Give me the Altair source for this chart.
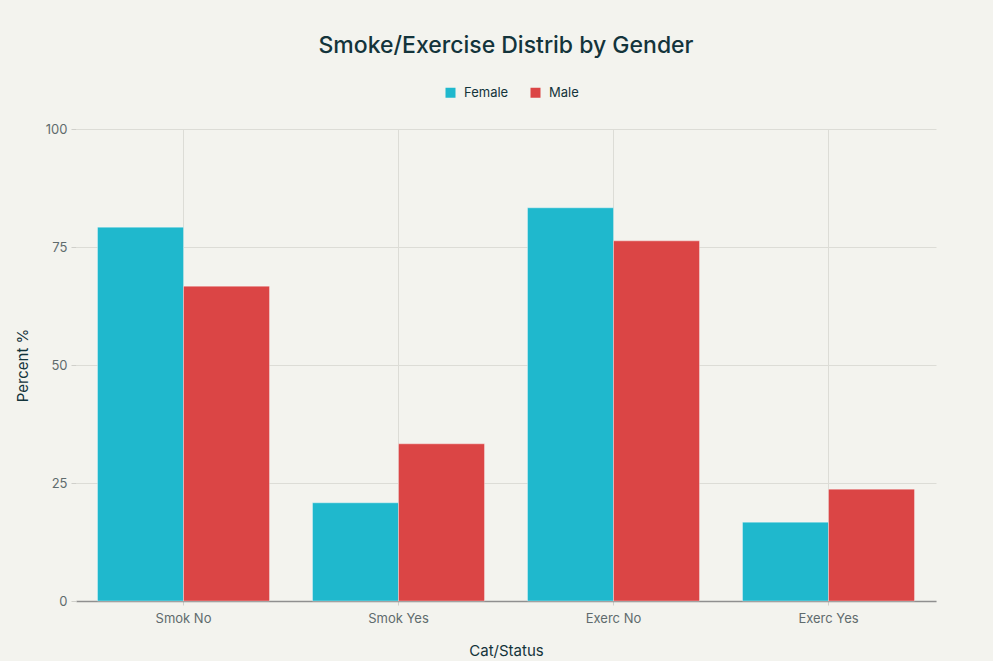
import altair as alt
import pandas as pd

categories = ["Smok No", "Smok Yes", "Exerc No", "Exerc Yes"]
genders = ["Female", "Male"]
female_pct = [79.2, 20.8, 83.3, 16.7]
male_pct = [66.7, 33.3, 76.3, 23.7]
colors = ["#1FB8CD", "#DB4545"]
y_ticks = [0, 25, 50, 75, 100]

rows = []
for c, f, m in zip(categories, female_pct, male_pct):
    rows.append({"cat": c, "gender": "Female", "pct": f})
    rows.append({"cat": c, "gender": "Male", "pct": m})
df = pd.DataFrame(rows)

FONT = "Inter"
BG = "#f3f3ee"
DARK = "#13343B"
GRAY = "#5f6b6d"

chart = alt.Chart(df).mark_bar(stroke="#ffffff", strokeWidth=0.6, strokeOpacity=0.6).encode(
    x=alt.X(
        "cat:N",
        sort=categories,
        title="Cat/Status",
        scale=alt.Scale(paddingInner=0.2, paddingOuter=0.1),
        axis=alt.Axis(
            labelAngle=0, grid=True, gridColor="#dcdcd6", gridWidth=1,
            domainColor="#8f8f8f", domainWidth=1.5,
            tickColor="#cfcfca", tickSize=4,
            labelFont=FONT, labelFontSize=13, labelColor=GRAY, labelPadding=7,
            titleFont=FONT, titleFontSize=15, titleColor=DARK, titleFontWeight="normal",
            titlePadding=18,
        ),
    ),
    xOffset=alt.XOffset("gender:N", sort=genders, scale=alt.Scale(paddingInner=0, paddingOuter=0)),
    y=alt.Y(
        "pct:Q",
        title="Percent %",
        scale=alt.Scale(domain=[0, 100]),
        axis=alt.Axis(
            values=y_ticks, grid=True, gridColor="#dcdcd6", gridWidth=1,
            domain=False, tickColor="#cfcfca", tickSize=5,
            labelFont=FONT, labelFontSize=13, labelColor=GRAY, labelPadding=4,
            titleFont=FONT, titleFontSize=15, titleColor=DARK, titleFontWeight="normal",
            titlePadding=15,
        ),
    ),
    color=alt.Color(
        "gender:N",
        sort=genders,
        scale=alt.Scale(domain=genders, range=colors),
        legend=alt.Legend(
            title=None, orient="none", direction="horizontal",
            legendX=368, legendY=-43,
            symbolType="square", symbolSize=100, symbolStrokeWidth=0,
            labelFont=FONT, labelFontSize=13, labelColor=DARK,
            columnPadding=20, labelOffset=7, padding=0,
        ),
    ),
).properties(
    width=860,
    height=472,
    title=alt.TitleParams(
        "Smoke/Exercise Distrib by Gender",
        font=FONT, fontSize=23, fontWeight=500, color=DARK,
        anchor="middle", frame="group", offset=28,
    ),
    background=BG,
    autosize=alt.AutoSizeParams(type="none"),
    padding={"left": 76, "top": 129, "right": 57, "bottom": 60},
).configure_view(stroke=None)

chart.save("out.html", embed_options={"renderer": "svg", "actions": False})
